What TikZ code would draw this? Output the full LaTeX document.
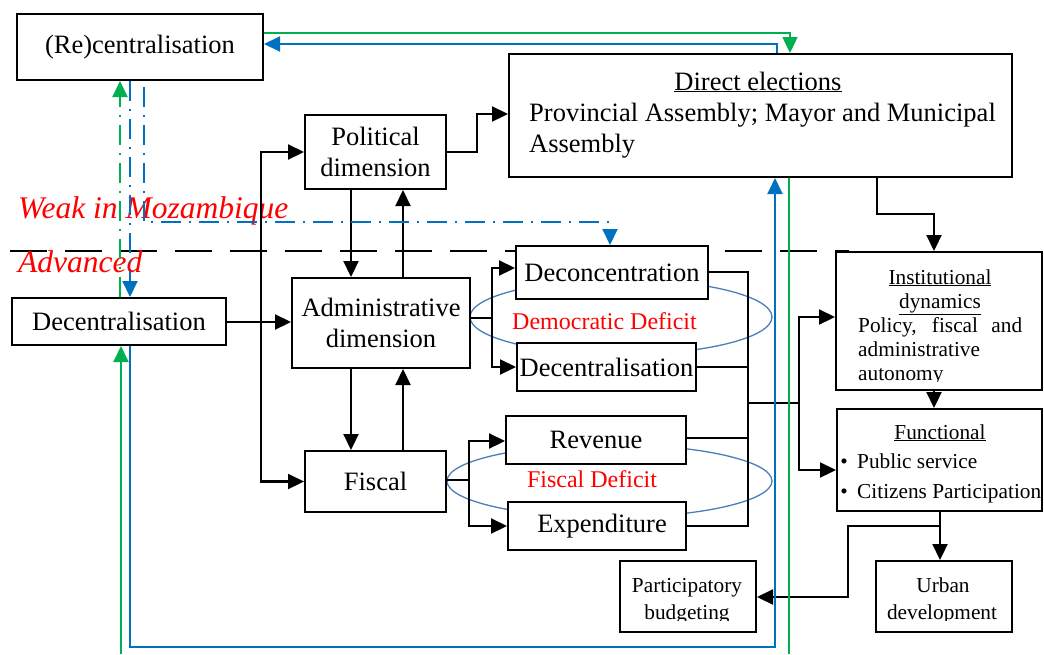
\documentclass[tikz,border=0pt]{standalone}
\usepackage{fontspec}
\setmainfont{Liberation Serif}
\usetikzlibrary{arrows.meta}
\definecolor{ofgreen}{HTML}{00B050}
\definecolor{ofblue}{HTML}{0070C0}
\definecolor{ringblue}{HTML}{4A7EBB}
\definecolor{deficitred}{HTML}{FF0000}
\newcommand\bigtxt{\fontsize{26.5}{31}\selectfont}
\newcommand\smalltxt{\fontsize{21.3}{24.5}\selectfont}
\newcommand\redtxt{\fontsize{24}{28}\selectfont}
\newcommand\slanttxt{\fontsize{31.5}{35}\selectfont\itshape}

\begin{document}
\begin{tikzpicture}[x=1pt,y=-1pt,
  box/.style={draw=black, line width=2pt, fill=white, inner sep=0pt, align=center, font=\bigtxt},
  smallbox/.style={draw=black, line width=2pt, fill=white, inner sep=0pt},
  small/.style={font=\smalltxt, inner sep=0pt},
  big/.style={font=\bigtxt, inner sep=0pt},
  tip/.style={-{Triangle[length=16pt,width=15pt]}},
  link/.style={line width=2.2pt, draw=black, line cap=rect},
  arrowlink/.style={link, tip},
  ring/.style={draw=ringblue, line width=1.3pt},
  blueline/.style={draw=ofblue, line width=2pt},
  greenline/.style={draw=ofgreen, line width=2pt},
  thingreen/.style={draw=ofgreen, line width=1.4pt},
  dashdot/.style={dash pattern=on 20pt off 8pt on 2pt off 8pt},
  bandline/.style={line width=1.8pt, draw=black, dash pattern=on 37pt off 18pt},
  deficit/.style={font=\redtxt, text=deficitred, inner sep=0pt},
  zone/.style={font=\slanttxt, text=deficitred, inner sep=0pt},
]
\useasboundingbox (0,0) rectangle (1044,654);

% deficit rings behind the boxes
\draw[ring] (621,317) ellipse [x radius=151pt, y radius=37.5pt];
\draw[ring] (609.5,481) ellipse [x radius=162.5pt, y radius=36.5pt];

% border between the two zones
\coordinate (bandL) at (10,251);
\coordinate (bandR) at (849,251);
\draw[bandline] (bandL) -- (bandR);

% boxes
\node[box, minimum width=246pt, minimum height=66pt] (recent) at (140,47) {(Re)centralisation};
\node[box, minimum width=503pt, minimum height=123pt] (direct) at (760.5,115.5) {};
\node[box, minimum width=141pt, minimum height=74pt] (polit) at (375.5,152) {Political\\dimension};
\node[box, minimum width=178pt, minimum height=90pt] (admin) at (381,323) {Administrative\\dimension};
\node[box, minimum width=141pt, minimum height=61pt] (fiscal) at (375.5,481.5) {Fiscal};
\node[box, minimum width=192pt, minimum height=53pt] (decon) at (612,272.5) {Deconcentration};
\node[box, minimum width=179pt, minimum height=48pt] (decinner) at (606.5,367) {Decentralisation};
\node[box, minimum width=180pt, minimum height=48pt] (revenue) at (596,440) {Revenue};
\node[box, minimum width=178pt, minimum height=48pt] (expend) at (597,526) {\hspace*{10pt}Expenditure};
\node[box, minimum width=214pt, minimum height=47pt] (decleft) at (119,321.5) {Decentralisation};
\node[smallbox, minimum width=206pt, minimum height=138pt] (inst) at (939,321) {};
\node[smallbox, minimum width=205pt, minimum height=102pt] (func) at (939.5,460) {};
\node[smallbox, minimum width=136pt, minimum height=71pt] (partic) at (688,596.5) {};
\node[smallbox, minimum width=136pt, minimum height=71pt] (urban) at (944,596.5) {};

% text of the elections box
\node[big, anchor=base] (direct-head) at (758,90) {\underline{Direct elections}};
\node[big, anchor=base west] (direct-l1) at (529,121) {Provincial Assembly; Mayor and Municipal};
\node[big, anchor=base west] (direct-l2) at (529,152) {Assembly};

% text of the institutional box, cut off at its inner margin
\begin{scope}
  \clip (inst.north west) rectangle (inst.east |- 0,381);
  \node[small, anchor=base] (inst-h1) at (940,284) {\underline{Institutional}};
  \node[small, anchor=base] (inst-h2) at (940,308) {\underline{dynamics}};
  \node[small, anchor=base west] (inst-l1) at (858,332) {\makebox[164pt][s]{Policy, fiscal and}};
  \node[small, anchor=base west] (inst-l2) at (858,356) {administrative};
  \node[small, anchor=base west] (inst-l3) at (858,380) {autonomy};
\end{scope}

% text of the functional box
\node[small, anchor=base] (func-h) at (940,439) {\underline{Functional}};
\node[small, anchor=base] (func-b1) at (844,468) {\textbullet};
\node[small, anchor=base west] (func-l1) at (857,468) {Public service};
\node[small, anchor=base] (func-b2) at (844,498) {\textbullet};
\node[small, anchor=base west] (func-l2) at (857,498) {Citizens Participation};

% text of the two bottom boxes
\begin{scope}
  \clip (partic.north west) rectangle (partic.east |- 0,620);
  \node[small, anchor=base] (partic-l1) at (687,592) {Participatory};
  \node[small, anchor=base] (partic-l2) at (687,619) {budgeting};
\end{scope}
\begin{scope}
  \clip (urban.north west) rectangle (urban.east |- 0,620);
  \node[small, anchor=base] (urban-l1) at (943,592) {Urban};
  \node[small, anchor=base] (urban-l2) at (942,619) {development};
\end{scope}

% red labels
\node[deficit, anchor=base] (demdef) at (604.5,329) {Democratic Deficit};
\node[deficit, anchor=base] (fisdef) at (592,487) {Fiscal Deficit};
\node[zone, anchor=base west] (weak) at (18,218) {Weak in Mozambique};
\node[zone, anchor=base west] (adv) at (18,272) {Advanced};

% decentralisation into the three dimensions
\coordinate (spine) at (261,322);
\draw[arrowlink] (decleft.east |- spine) -- (admin.west |- spine);
\draw[arrowlink] (spine) |- (polit.west);
\draw[arrowlink] (spine) |- (fiscal.west);

% political dimension to direct elections
\coordinate (pd) at (477,114);
\draw[arrowlink] (polit.east) -| (pd) -- (direct.west |- pd);

% links between the dimensions
\coordinate (xl) at (351,0);
\coordinate (xr) at (403,0);
\draw[arrowlink] (polit.south -| xl) -- (admin.north -| xl);
\draw[arrowlink] (admin.north -| xr) -- (polit.south -| xr);
\draw[arrowlink] (admin.south -| xl) -- (fiscal.north -| xl);
\draw[arrowlink] (fiscal.north -| xr) -- (admin.south -| xr);

% administrative branch
\coordinate (aj) at (492,318);
\draw[link] (admin.east |- aj) -- (aj);
\draw[arrowlink] (aj) |- (decon.west |- 0,268);
\draw[arrowlink] (aj) |- (decinner.west |- 0,367);

% fiscal branch
\coordinate (fj) at (469,480);
\draw[link] (fiscal.east |- fj) -- (fj);
\draw[arrowlink] (fj) |- (revenue.west |- 0,441);
\draw[arrowlink] (fj) |- (expend.west |- 0,526);

% collector towards the outcome boxes
\coordinate (cv) at (748,403);
\coordinate (cj) at (799,403);
\draw[link] (decon.east |- 0,272) -| (cv);
\draw[link] (decinner.east |- 0,367) -| (cv);
\draw[link] (revenue.east |- 0,438) -| (cv);
\draw[link] (expend.east |- 0,526) -| (cv);
\draw[link] (cv) -- (cj);
\draw[arrowlink] (cj) |- (inst.west |- 0,317);
\draw[arrowlink] (cj) |- (func.west |- 0,470);

% elections to institutional dynamics and onwards
\coordinate (di) at (877,214);
\coordinate (di2) at (934,214);
\draw[arrowlink] (direct.south -| di) -- (di) -- (di2) -- (inst.north -| di2);
\draw[arrowlink] (inst.south -| di2) -- (func.north -| di2);
\coordinate (fu) at (940,526);
\coordinate (fp1) at (848,526);
\coordinate (fp2) at (848,597);
\draw[arrowlink] (func.south -| fu) -- (urban.north -| fu);
\draw[arrowlink] (fu) -- (fp1) -- (fp2) -- (partic.east |- fp2);

% blue feedback loop
\coordinate (bl) at (130,647);
\coordinate (br) at (775,647);
\draw[blueline, tip] (decleft.south -| bl) -- (bl) -- (br) -- (direct.south -| br);
\coordinate (bt) at (777,44);
\draw[blueline, tip] (direct.north -| bt) -- (bt) -- (recent.east |- bt);
\draw[blueline, dashdot, tip] (recent.south -| bl) -- (decleft.north -| bl);
\coordinate (bd1) at (144,87);
\coordinate (bd2) at (144,222);
\coordinate (bd3) at (610,222);
\draw[blueline, dashdot, tip] (bd1) -- (bd2) -- (bd3) -- (decon.north -| bd3);

% green feedback loop
\coordinate (gt) at (790,33);
\draw[thingreen, tip] (recent.east |- gt) -- (gt) -- (direct.north -| gt);
\coordinate (gb) at (121,654);
\draw[greenline, tip] (gb) -- (decleft.south -| gb);
\coordinate (gr) at (789,654);
\draw[thingreen] (direct.south -| gr) -- (gr);
\coordinate (gd) at (120,0);
\draw[greenline, dashdot, tip] (decleft.north -| gd) -- (recent.south -| gd);
\end{tikzpicture}
\end{document}
